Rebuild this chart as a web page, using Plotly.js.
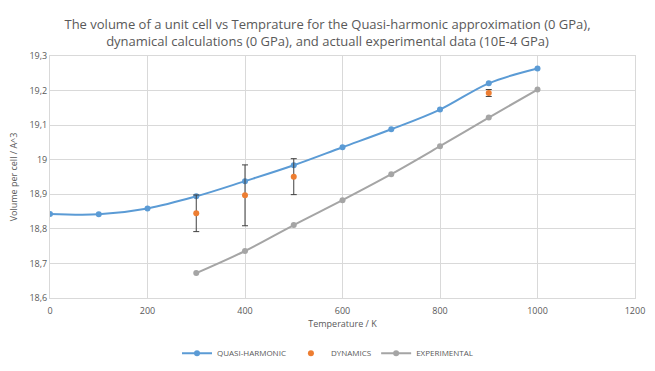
<!DOCTYPE html>
<html><head><meta charset="utf-8">
<script src="https://cdn.plot.ly/plotly-3.0.1.min.js"></script>
<style>body{margin:0;background:#fff}#chart{width:655px;height:371px}</style>
</head><body><div id="chart"></div>
<script>
var qhTemp = [0, 100, 200, 300, 400, 500, 600, 700, 800, 900, 1000];
var qhVol = [18.843, 18.842, 18.859, 18.894, 18.938, 18.984, 19.036, 19.088, 19.145, 19.221, 19.264];
var dynTemp = [300, 400, 500, 900];
var dynVol = [18.845, 18.897, 18.951, 19.193];
var dynErr = [0.053, 0.088, 0.052, 0.01];
var expTemp = [300, 400, 500, 600, 700, 800, 900, 1000];
var expVol = [18.672, 18.736, 18.811, 18.883, 18.958, 19.039, 19.122, 19.203];

var font = "Open Sans, Liberation Sans, sans-serif";
var traces = [
  {x: qhTemp, y: qhVol, name: 'QUASI-HARMONIC', mode: 'lines+markers', type: 'scatter',
   line: {color: '#5B9BD5', width: 2, shape: 'spline', smoothing: 1},
   marker: {color: '#5B9BD5', size: 6}},
  {x: dynTemp, y: dynVol, name: 'DYNAMICS', mode: 'markers', type: 'scatter',
   marker: {color: '#ED7D31', size: 6},
   error_y: {type: 'data', array: dynErr, visible: true, color: '#404040', thickness: 1, width: 3}},
  {x: expTemp, y: expVol, name: 'EXPERIMENTAL', mode: 'lines+markers', type: 'scatter',
   line: {color: '#A5A5A5', width: 2, shape: 'spline', smoothing: 1},
   marker: {color: '#A5A5A5', size: 6}}
];
var layout = {
  width: 655, height: 371,
  margin: {l: 50, r: 20, t: 56, b: 73, autoexpand: false},
  paper_bgcolor: '#fff', plot_bgcolor: '#fff',
  separators: ', ',
  font: {family: font, color: '#595959', size: 9},
  title: {text: 'The volume of a unit cell vs Temprature for the Quasi-harmonic approximation (0 GPa),<br>dynamical calculations (0 GPa), and actuall experimental data (10E-4 GPa)',
    font: {family: font, size: 13, color: '#595959'}, x: 0.5, xanchor: 'center', yref: 'container', y: 0.922, yanchor: 'middle'},
  xaxis: {range: [0, 1200], dtick: 200, tick0: 0, showgrid: true, gridcolor: '#D9D9D9', gridwidth: 1,
    zeroline: false, showline: true, linecolor: '#D9D9D9', mirror: true, ticks: '', ticklabelstandoff: 4,
    tickfont: {size: 9, color: '#595959'},
    title: {text: 'Temperature / K', font: {size: 9, color: '#595959'}, standoff: 4}},
  yaxis: {range: [18.6, 19.3], dtick: 0.1, tick0: 18.6, showgrid: true, gridcolor: '#D9D9D9', gridwidth: 1,
    zeroline: false, showline: true, linecolor: '#D9D9D9', mirror: true, ticks: '',
    tickfont: {size: 9, color: '#595959'},
    title: {text: 'Volume per cell / A^3', font: {size: 9, color: '#595959'}, standoff: 10}},
  showlegend: true,
  legend: {orientation: 'h', x: 0.5, xanchor: 'center', xref: 'container', yref: 'container', y: 0.048, yanchor: 'middle',
    font: {size: 8, color: '#595959'}, itemwidth: 30}
};
Plotly.newPlot('chart', traces, layout, {displayModeBar: false, staticPlot: true});
</script></body></html>
